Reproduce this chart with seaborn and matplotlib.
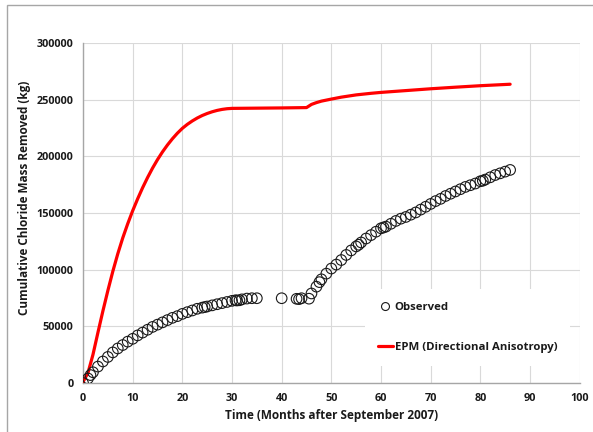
import matplotlib
matplotlib.use("Agg")
import matplotlib.pyplot as plt
import seaborn as sns
import pandas as pd
from matplotlib.patches import Rectangle

# Observed data (months, kg)
obs_months = [0, 1, 1.5, 2, 3, 4, 5, 6, 7, 8, 9, 10, 11, 12, 13, 14, 15, 16, 17, 18,
              19, 20, 21, 22, 23, 24, 24.5, 25, 26, 27, 28, 29, 30, 30.7, 31, 31.5, 32, 33, 34, 35,
              40, 43, 43.5, 44, 45.5,
              46, 47, 47.6, 48, 49, 50, 51, 52, 53, 54, 55, 55.5, 56, 57, 58, 59, 60, 60.5, 61,
              62, 63, 64, 65, 66, 67, 68, 69, 70, 71, 72, 73, 74, 75, 76, 77, 78, 79, 80,
              80.5, 81, 82, 83, 84, 85, 86]
obs_values = [0, 4000, 7000, 9500, 14500, 19000, 23000, 27000, 30500, 33500, 36500, 39000, 42000,
              44500, 47000, 49500, 51500, 53500, 55500, 57500, 59000, 61000, 62500, 64000, 65500,
              66500, 67000, 67500, 68500, 69500, 70500, 71500, 72500, 73000, 72800, 73000, 73800,
              74500, 74800, 74800,
              74800, 74300, 74000, 74800, 74400,
              79000, 85000, 89000, 91500, 96500, 101000, 104500, 108500, 113000, 117000, 120500,
              122000, 124000, 127500, 130500, 133500, 136500, 137200, 138000,
              140500, 143000, 145000, 146500, 148500, 150500, 153000, 155500, 158000, 160500,
              162500, 165000, 167000, 169000, 171000, 173000, 174500, 176000, 178000,
              178500, 179500, 181500, 183500, 185000, 186500, 188000]

# EPM model curve
epm_months = [0, 1, 2, 3, 4, 5, 6, 7, 8, 9, 10, 11, 12, 13, 14, 15, 16, 17, 18, 19, 20,
              21, 22, 23, 24, 25, 26, 27, 28, 29, 30, 35, 40, 45, 46, 47, 48, 50, 52, 55,
              58, 60, 65, 70, 75, 80, 86]
epm_values = [1000, 9000, 25000, 44500, 63500, 81500, 98500, 114000, 128000, 140500, 152000,
              162500, 172300, 181300, 189600, 197100, 203900, 210000, 215500, 220400, 224700,
              228200, 231200, 233800, 236000, 237800, 239300, 240500, 241400, 242000, 242300,
              242500, 242700, 243000, 245800, 247400, 248700, 250500, 252200, 254200,
              255600, 256400, 258000, 259600, 261000, 262300, 263600]

x_ticks = [0, 10, 20, 30, 40, 50, 60, 70, 80, 90, 100]
y_ticks = [0, 50000, 100000, 150000, 200000, 250000, 300000]

obs_df = pd.DataFrame({"month": obs_months, "value": obs_values})
epm_df = pd.DataFrame({"month": epm_months, "value": epm_values})

sns.set_style("whitegrid")
plt.rcParams["font.family"] = ["Open Sans", "DejaVu Sans"]

fig = plt.figure(figsize=(5.93, 4.32), dpi=100)
ax = fig.add_axes([0.140, 0.1134, 0.8375, 0.7871])

# outer chart-area frame
fig.patches.append(Rectangle((7 / 593, -0.1), 1.2, (432 - 5) / 432 + 0.1, transform=fig.transFigure,
                             fill=False, edgecolor="#a6a6a6", linewidth=1.0, zorder=0))

sns.lineplot(data=epm_df, x="month", y="value", ax=ax, color="#ff0000", linewidth=2.3,
             label="EPM (Directional Anisotropy)", zorder=3, sort=False)
sns.scatterplot(data=obs_df, x="month", y="value", ax=ax, marker="o", s=58,
                facecolors="none", edgecolor="#1a1a1a", linewidth=0.8,
                label="Observed", zorder=4)

ax.set_xlim(0, 100)
ax.set_ylim(0, 300000)
ax.set_xticks(x_ticks)
ax.set_yticks(y_ticks)
ax.set_xticklabels([str(t) for t in x_ticks])
ax.set_yticklabels([str(t) for t in y_ticks])
ax.grid(True, color="#d9d9d9", linewidth=0.8)
for s in ["top", "right"]:
    ax.spines[s].set_visible(False)
for s in ["left", "bottom"]:
    ax.spines[s].set_color("#a6a6a6")
    ax.spines[s].set_linewidth(1.0)
ax.tick_params(axis="both", which="both", length=4, width=0.8, color="#a6a6a6",
               labelsize=7.8, pad=3, labelcolor="#1a1a1a")
for lab in ax.get_xticklabels() + ax.get_yticklabels():
    lab.set_fontweight("bold")

ax.set_xlabel("Time (Months after September 2007)", fontsize=8.5, fontweight="bold",
              color="#1a1a1a", labelpad=4)
ax.set_ylabel("Cumulative Chloride Mass Removed (kg)", fontsize=8.5, fontweight="bold",
              color="#1a1a1a")
ax.yaxis.set_label_coords(-0.104, 0.545)

handles, labels = ax.get_legend_handles_labels()
order = [labels.index("Observed"), labels.index("EPM (Directional Anisotropy)")]
leg = ax.legend([handles[i] for i in order], [labels[i] for i in order],
                loc="upper left", bbox_to_anchor=(365 / 593, 1 - 289 / 432),
                bbox_transform=fig.transFigure, frameon=True, facecolor="white",
                edgecolor="none", framealpha=1.0, fancybox=False,
                prop={"weight": "bold", "size": 8.2}, labelspacing=2.6,
                handlelength=1.4, handletextpad=0.1, borderpad=1.1, borderaxespad=0,
                markerscale=0.75)
leg.set_zorder(5)
for t in leg.get_texts():
    t.set_color("#1a1a1a")

fig.savefig("out.png", dpi=100)
